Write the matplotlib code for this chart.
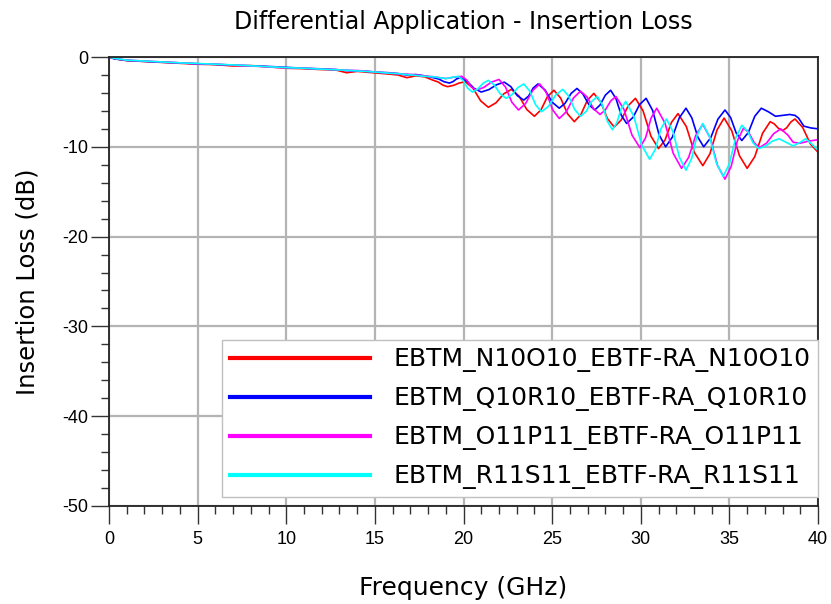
import matplotlib
matplotlib.use("Agg")
import matplotlib.pyplot as plt
from matplotlib.ticker import MultipleLocator

plt.rcParams['font.family'] = ['DejaVu Sans']
plt.rcParams['axes.unicode_minus'] = False

title = "Differential Application - Insertion Loss"
xlabel = "Frequency (GHz)"
ylabel = "Insertion Loss (dB)"

labels = ["EBTM_N10O10_EBTF-RA_N10O10", "EBTM_Q10R10_EBTF-RA_Q10R10",
          "EBTM_O11P11_EBTF-RA_O11P11", "EBTM_R11S11_EBTF-RA_R11S11"]
colors = ["#ff0000", "#0000ff", "#ff00ff", "#00ffff"]

low_f = [0, 0.3, 1, 2, 3, 4, 5, 6, 7, 8, 9, 10, 11, 12, 12.8, 13.4, 14, 14.6, 15.2, 15.8, 16.3, 16.8, 17.3, 17.8, 18.3]

red_low = [0, -0.2, -0.4, -0.5, -0.6, -0.7, -0.8, -0.85, -1.0, -0.95, -1.1, -1.25, -1.3, -1.4, -1.45, -1.75, -1.6, -1.7, -1.8, -1.9, -2.0, -2.3, -2.1, -2.2, -2.6]
blue_low = [0, -0.2, -0.38, -0.48, -0.58, -0.65, -0.75, -0.82, -0.9, -0.98, -1.05, -1.15, -1.25, -1.32, -1.4, -1.5, -1.55, -1.6, -1.7, -1.75, -1.85, -2.0, -1.95, -2.1, -2.3]
mag_low = [0, -0.15, -0.35, -0.45, -0.55, -0.65, -0.75, -0.8, -0.9, -1.0, -1.1, -1.2, -1.25, -1.35, -1.4, -1.5, -1.5, -1.6, -1.7, -1.8, -1.85, -1.9, -2.0, -2.1, -2.2]
cyan_low = [0, -0.15, -0.35, -0.45, -0.55, -0.65, -0.72, -0.8, -0.88, -0.98, -1.08, -1.18, -1.25, -1.35, -1.42, -1.48, -1.55, -1.62, -1.7, -1.8, -1.85, -1.95, -2.05, -2.15, -2.2]

red_hi_f = [18.57, 18.83, 19.1, 19.43, 19.77, 20.1, 20.53, 20.97, 21.4, 21.83, 22.27, 22.7, 23.13, 23.57, 24.0,
            24.37, 24.73, 25.1, 25.48, 25.87, 26.25, 26.62, 26.98, 27.35, 27.73, 28.12, 28.5, 28.9, 29.3, 29.7,
            30.13, 30.57, 31.0, 31.37, 31.73, 32.1, 32.57, 33.03, 33.5, 33.9, 34.3, 34.7, 35.13, 35.57, 36.0,
            36.43, 36.87, 37.3, 37.53, 37.77, 38.0, 38.23, 38.47, 38.7, 39.13, 39.57, 40.0]
red_hi = [-2.78, -3.13, -3.3, -3.16, -2.89, -2.75, -3.46, -4.89, -5.6, -5.1, -4.1, -3.6, -4.35, -5.85, -6.6,
          -5.88, -4.43, -3.7, -4.58, -6.33, -7.2, -6.41, -4.84, -4.05, -4.99, -6.86, -7.8, -7.0, -5.4, -4.6,
          -6.0, -8.8, -10.2, -9.23, -7.28, -6.3, -7.75, -10.65, -12.1, -10.78, -8.13, -6.8, -8.2, -11.0, -12.4,
          -11.1, -8.5, -7.2, -7.45, -7.95, -8.2, -7.88, -7.23, -6.9, -7.83, -9.68, -10.6]

blue_hi_f = [18.6, 18.9, 19.2, 19.4, 19.6, 19.8, 20.2, 20.6, 21.0, 21.43, 21.87, 22.3, 22.67, 23.03, 23.4,
             23.67, 23.93, 24.2, 24.6, 25.0, 25.4, 25.73, 26.07, 26.4, 26.73, 27.07, 27.4, 27.7, 28.0, 28.3,
             28.6, 28.9, 29.2, 29.57, 29.93, 30.3, 30.67, 31.03, 31.4, 31.78, 32.17, 32.55, 32.88, 33.22, 33.55,
             33.95, 34.35, 34.75, 35.07, 35.38, 35.7, 36.07, 36.43, 36.8, 37.2, 37.6, 38.0, 38.4, 38.7, 38.9,
             39.2, 39.6, 40.0]
blue_hi = [-2.45, -2.75, -2.9, -2.75, -2.45, -2.3, -2.7, -3.5, -3.9, -3.63, -3.08, -2.8, -3.3, -4.3, -4.8,
           -4.35, -3.45, -3.0, -3.68, -5.03, -5.7, -5.15, -4.05, -3.5, -4.1, -5.3, -5.9, -5.35, -4.25, -3.7,
           -4.63, -6.48, -7.4, -6.7, -5.3, -4.6, -5.95, -8.65, -10.0, -8.93, -6.78, -5.7, -6.78, -8.93, -10.0,
           -8.98, -6.93, -5.9, -6.75, -8.45, -9.3, -8.4, -6.6, -5.7, -6.1, -6.6, -6.5, -6.4, -6.5, -6.8,
           -7.7, -7.9, -8.0]

mag_hi_f = [18.65, 19.0, 19.45, 19.9, 20.17, 20.43, 20.7, 21.13, 21.57, 22.0, 22.37, 22.73, 23.1, 23.5, 23.9,
            24.3, 24.67, 25.03, 25.4, 25.8, 26.2, 26.6, 26.97, 27.33, 27.7, 28.0, 28.3, 28.6, 29.05, 29.5,
            29.95, 30.27, 30.58, 30.9, 31.37, 31.83, 32.3, 32.7, 33.1, 33.5, 33.92, 34.33, 34.75, 35.1, 35.45,
            35.8, 36.1, 36.4, 36.7, 37.1, 37.5, 37.9, 38.3, 38.6, 39.0, 39.4, 40.0]
mag_hi = [-2.3, -2.4, -2.25, -2.15, -2.54, -3.31, -3.7, -3.4, -2.8, -2.5, -3.35, -5.05, -5.9, -5.18, -3.73,
          -3.0, -3.96, -5.89, -6.85, -6.09, -4.56, -3.8, -4.45, -5.75, -6.4, -5.9, -4.9, -4.4, -5.83, -8.68,
          -10.1, -9.0, -6.8, -5.7, -7.38, -10.73, -12.4, -11.18, -8.73, -7.5, -9.03, -12.08, -13.6, -12.18, -9.33,
          -7.9, -8.45, -9.55, -10.1, -9.58, -8.53, -8.0, -8.7, -9.5, -9.6, -9.4, -9.2]

cyan_hi_f = [19.0, 19.7, 19.97, 20.23, 20.5, 20.8, 21.1, 21.4, 21.73, 22.07, 22.4, 22.73, 23.07, 23.4, 23.73,
             24.07, 24.4, 24.8, 25.2, 25.6, 25.93, 26.27, 26.6, 26.92, 27.23, 27.55, 27.83, 28.12, 28.4, 28.65,
             28.9, 29.15, 29.6, 30.05, 30.5, 30.82, 31.13, 31.45, 31.82, 32.18, 32.55, 32.87, 33.18, 33.5, 33.88,
             34.27, 34.65, 35.0, 35.35, 35.7, 36.02, 36.33, 36.65, 37.03, 37.42, 37.8, 38.2, 38.6, 39.0, 39.3,
             39.6, 40.0]
cyan_hi = [-2.4, -2.15, -2.59, -3.46, -3.9, -3.58, -2.93, -2.6, -3.1, -4.1, -4.6, -4.2, -3.4, -3.0, -3.78,
           -5.33, -6.1, -5.48, -4.23, -3.6, -4.35, -5.85, -6.6, -6.05, -4.95, -4.4, -5.33, -7.18, -8.1, -7.31,
           -5.74, -4.95, -6.56, -9.79, -11.4, -10.28, -8.03, -6.9, -8.33, -11.18, -12.6, -11.3, -8.7, -7.4, -8.88,
           -11.83, -13.3, -11.88, -9.03, -7.6, -8.25, -9.55, -10.2, -9.93, -9.38, -9.1, -9.5, -9.9, -9.5, -9.1,
           -9.6, -10.4]

series = [
    (low_f + red_hi_f, red_low + red_hi),
    (low_f + blue_hi_f, blue_low + blue_hi),
    (low_f + mag_hi_f, mag_low + mag_hi),
    (low_f + cyan_hi_f, cyan_low + cyan_hi),
]

fig = plt.figure(figsize=(8.31, 6.04), dpi=100)
ax = fig.add_axes([0.1312, 0.1623, 0.8532, 0.7433])

for (f, v), c, lab in zip(series, colors, labels):
    ax.plot(f, v, color=c, lw=1.2, label=lab)

ax.set_xlim(0, 40)
ax.set_ylim(-50, 0)
ax.xaxis.set_major_locator(MultipleLocator(5))
ax.xaxis.set_minor_locator(MultipleLocator(1))
ax.yaxis.set_major_locator(MultipleLocator(10))
ax.yaxis.set_minor_locator(MultipleLocator(2))
ax.grid(True, which='major', color='#b4b4b4', lw=1.6)
ax.set_axisbelow(True)
ax.tick_params(which='major', direction='out', length=13, width=1, color='#333333')
ax.tick_params(which='minor', direction='out', length=6, width=1, color='#333333')
ax.tick_params(axis='x', which='major', pad=5)
ax.tick_params(axis='y', which='major', pad=2)
for lab in ax.get_xticklabels() + ax.get_yticklabels():
    lab.set_family('Liberation Sans')
    lab.set_fontsize(13)
for s in ax.spines.values():
    s.set_linewidth(1.3)
    s.set_color('#222222')

ax.set_title(title, fontsize=17, pad=20)
ax.set_xlabel(xlabel, fontsize=18, labelpad=20)
ax.set_ylabel(ylabel, fontsize=17.5, labelpad=16)

leg = ax.legend(loc='lower right', bbox_to_anchor=(1.0, 0.02), fontsize=18,
                handlelength=5.6, handletextpad=0.95, borderpad=0.3, labelspacing=0.56,
                fancybox=False, framealpha=1, edgecolor='#c0c0c0', borderaxespad=0)
for ln in leg.get_lines():
    ln.set_linewidth(3)

fig.savefig("out.png", dpi=100)
